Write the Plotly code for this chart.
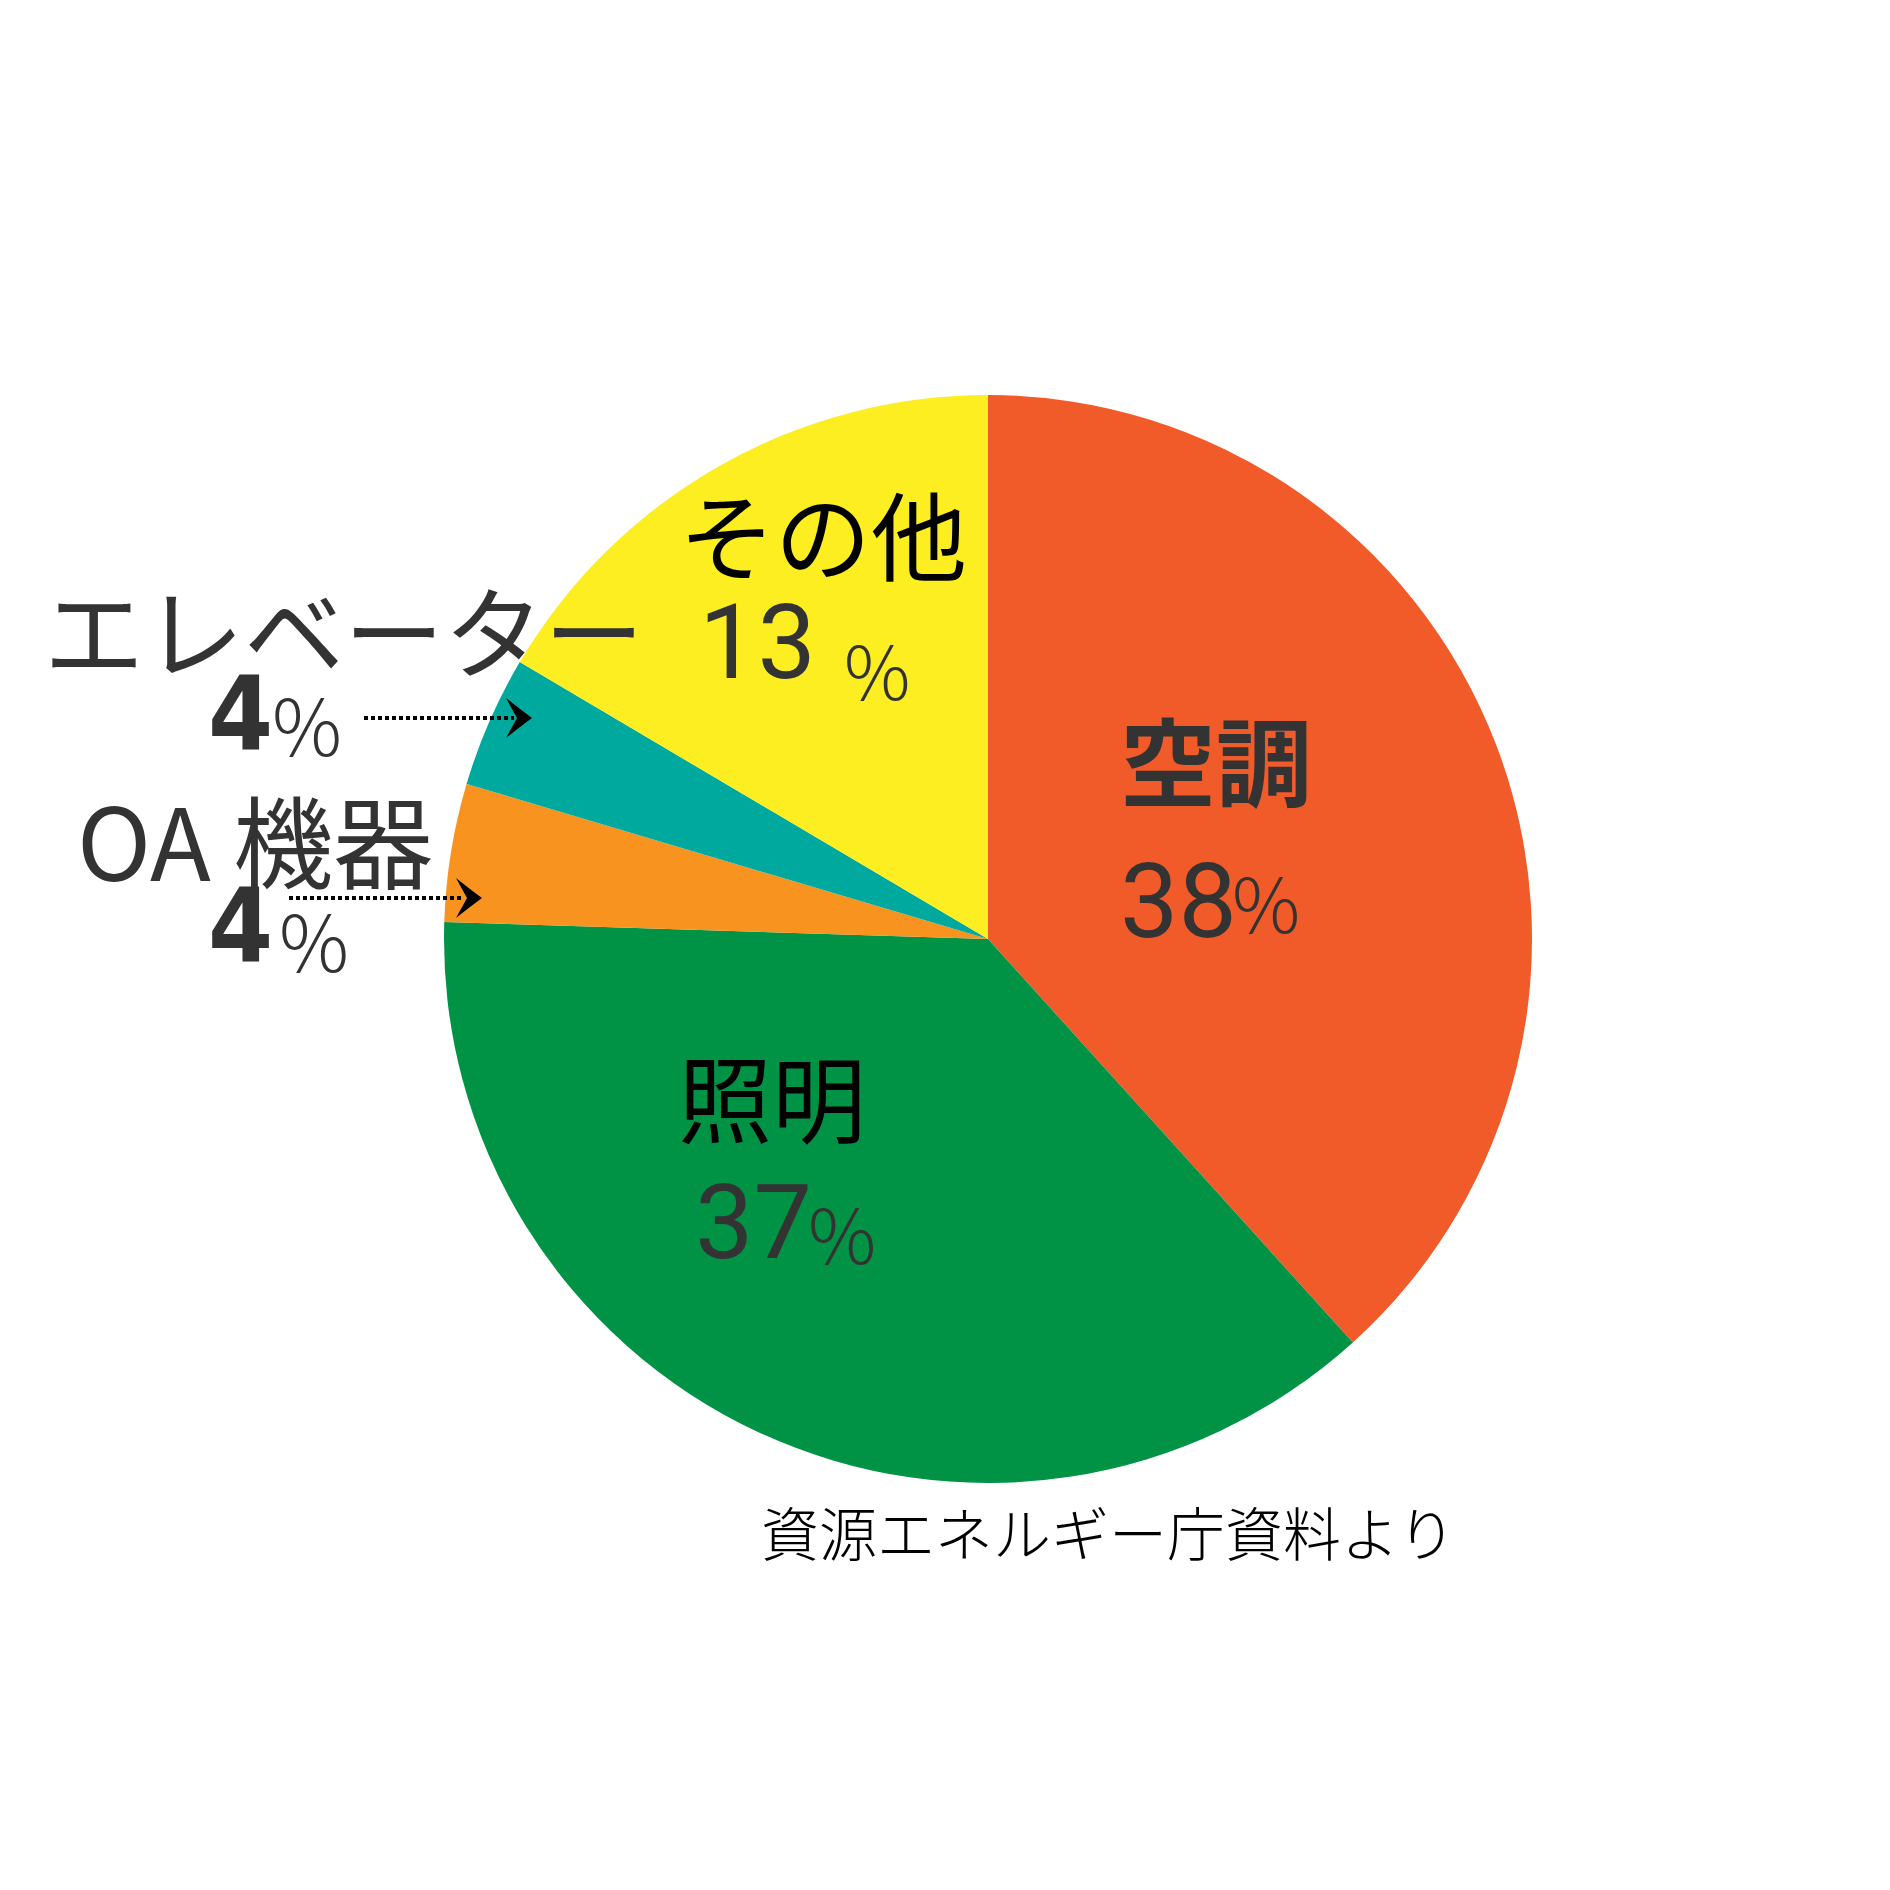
import plotly.graph_objects as go

# ---- data ----
categories = ["空調", "照明", "OA 機器", "エレベーター", "その他"]
slice_values = [38.3, 37.2, 4.1, 3.9, 16.5]      # measured slice sizes
pct_labels = ["38", "37", "4", "4", "13"]         # printed percentages
colors = ["#F15A29", "#009245", "#F7931E", "#00A99D", "#FCEE21"]
source_text = "資源エネルギー庁資料より"

# ---- layout helpers ----
W = H = 1890
OFF = 8  # page body margin
CX, CY, R = 988, 939, 544


def px(x):
    return (x - OFF) / W


def py(y):
    return 1 - (y - OFF) / H


CJK = "Noto Sans CJK JP"
NUM_MED = "Roboto, Noto Sans CJK JP, sans-serif"
NUM_BOLD = "Liberation Sans Narrow, DejaVu Sans Condensed, Roboto, sans-serif"
PCT = "Noto Sans CJK JP"

fig = go.Figure()
fig.add_trace(go.Pie(
    labels=categories,
    values=slice_values,
    sort=False,
    direction="clockwise",
    rotation=0,
    marker=dict(colors=colors, line=dict(width=0)),
    textinfo="none",
    hoverinfo="skip",
    showlegend=False,
    domain=dict(x=[px(CX - R), px(CX + R)], y=[py(CY + R), py(CY - R)]),
))

annotations = []


def add_text(text, x, y, size, color, family, weight="normal"):
    annotations.append(dict(
        text=text, x=px(x), y=py(y), xref="paper", yref="paper",
        xanchor="center", yanchor="middle", showarrow=False,
        font=dict(size=size, color=color, family=family, weight=weight),
    ))


# name label style/positions per category: (x, y, size, color, weight)
name_style = {
    "空調": (1216, 757, 96, "#333333", "bold"),
    "照明": (772, 1095, 94, "#000000", "normal"),
    "OA 機器": (255, 837, 100, "#333333", "normal"),
    "エレベーター": (344, 627, 100, "#333333", "normal"),
    "その他": (823, 531, 96, "#000000", "normal"),
}
# number position, size, font, weight, percent sign position and size
num_style = {
    "空調": (1178, 901, 104, NUM_MED, 400, 1266, 900, 76),
    "照明": (753, 1222, 104, NUM_MED, 400, 842, 1231, 76),
    "OA 機器": (240, 926, 104, NUM_BOLD, "bold", 314, 938, 78),
    "エレベーター": (240, 714, 104, NUM_BOLD, "bold", 307, 722, 78),
    "その他": (757, 642, 104, NUM_MED, 400, 877, 667, 74),
}

for cat, pct in zip(categories, pct_labels):
    x, y, s, c, w = name_style[cat]
    add_text(cat, x, y, s, c, CJK, w)
    nx, ny, ns, nf, nw, sx, sy, ss = num_style[cat]
    add_text(pct, nx, ny, ns, "#333333", nf, nw)
    add_text("%", sx, sy, ss, "#333333", PCT, 300)

add_text(source_text, 1108, 1531, 58, "#000000", CJK, 300)

# ---- dotted leader arrows ----
shapes = []
arrows = [  # (x_start, x_line_end, y, tip_x, wing_x, notch_x, half_h)
    (364, 514, 718, 532, 506, 517, 20),
    (289, 464, 898, 482, 456, 467, 20),
]
for x0, x1, y, tip, wing, notch, hh in arrows:
    shapes.append(dict(type="line", xref="paper", yref="paper",
                       x0=px(x0), x1=px(x1), y0=py(y), y1=py(y),
                       line=dict(color="black", width=4, dash="4px,3px")))
    mx = (wing + tip) / 2
    path = (f"M {px(tip)},{py(y)} "
            f"Q {px(mx + 2)},{py(y - hh * 0.4)} {px(wing)},{py(y - hh)} "
            f"L {px(notch)},{py(y)} "
            f"L {px(wing)},{py(y + hh)} "
            f"Q {px(mx + 2)},{py(y + hh * 0.4)} {px(tip)},{py(y)} Z")
    shapes.append(dict(type="path", xref="paper", yref="paper", path=path,
                       fillcolor="black", line=dict(width=0)))

fig.update_layout(
    width=W, height=H,
    margin=dict(l=0, r=0, t=0, b=0),
    paper_bgcolor="white", plot_bgcolor="white",
    annotations=annotations, shapes=shapes,
)

fig.write_html("out.html")
